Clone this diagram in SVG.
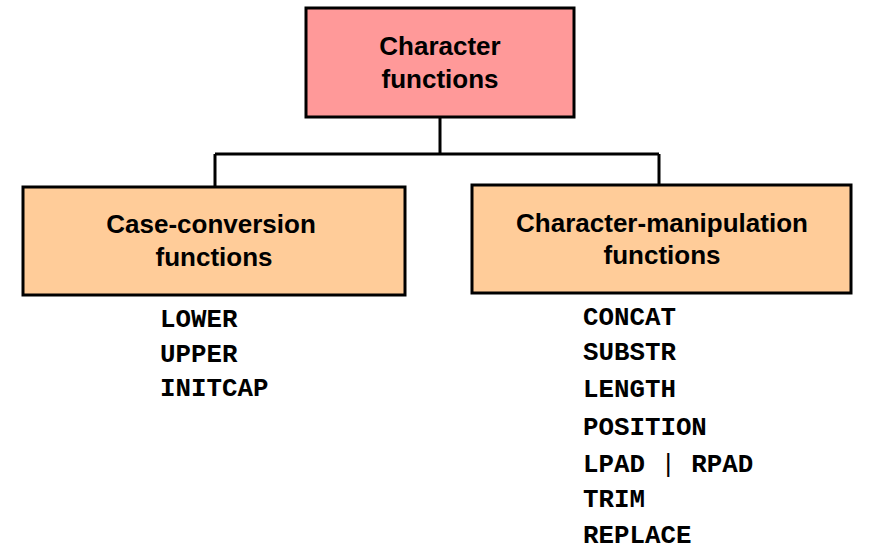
<svg xmlns="http://www.w3.org/2000/svg" width="882" height="551" viewBox="0 0 882 551">
<style>
.box{stroke:#000;stroke-width:3}
.t{font-family:"Liberation Sans",Arial,sans-serif;font-weight:bold;font-size:26px;text-anchor:middle;fill:#000}
.m{font-family:"Liberation Mono","Courier New",monospace;font-weight:bold;font-size:25.8px;fill:#000}
.c{stroke:#000;stroke-width:3;fill:none}
</style>
<rect width="882" height="551" fill="#fff"/>
<g id="connectors">
<path class="c" d="M440,117 V154 M215,154 H659 M215,154 V187 M659,154 V185"/>
</g>
<g id="root">
<rect class="box" x="306" y="8" width="268" height="109" fill="#FF9999"/>
<text class="t" x="440" y="55">Character</text>
<text class="t" x="440" y="88">functions</text>
</g>
<g id="case">
<rect class="box" x="23" y="187" width="382" height="108" fill="#FFCC99"/>
<text class="t" x="211" y="233">Case-conversion</text>
<text class="t" x="214" y="266">functions</text>
</g>
<g id="manip">
<rect class="box" x="472" y="185" width="379" height="108" fill="#FFCC99"/>
<text class="t" x="662" y="232">Character-manipulation</text>
<text class="t" x="662" y="264">functions</text>
</g>
<g id="case-list">
<text class="m" x="160" y="327">LOWER</text>
<text class="m" x="160" y="362">UPPER</text>
<text class="m" x="160" y="396">INITCAP</text>
</g>
<g id="manip-list">
<text class="m" x="583" y="325">CONCAT</text>
<text class="m" x="583" y="360">SUBSTR</text>
<text class="m" x="583" y="397">LENGTH</text>
<text class="m" x="583" y="435">POSITION</text>
<text class="m" x="583" y="472">LPAD <tspan font-weight="normal">|</tspan> RPAD</text>
<text class="m" x="583" y="507">TRIM</text>
<text class="m" x="583" y="543">REPLACE</text>
</g>
</svg>
